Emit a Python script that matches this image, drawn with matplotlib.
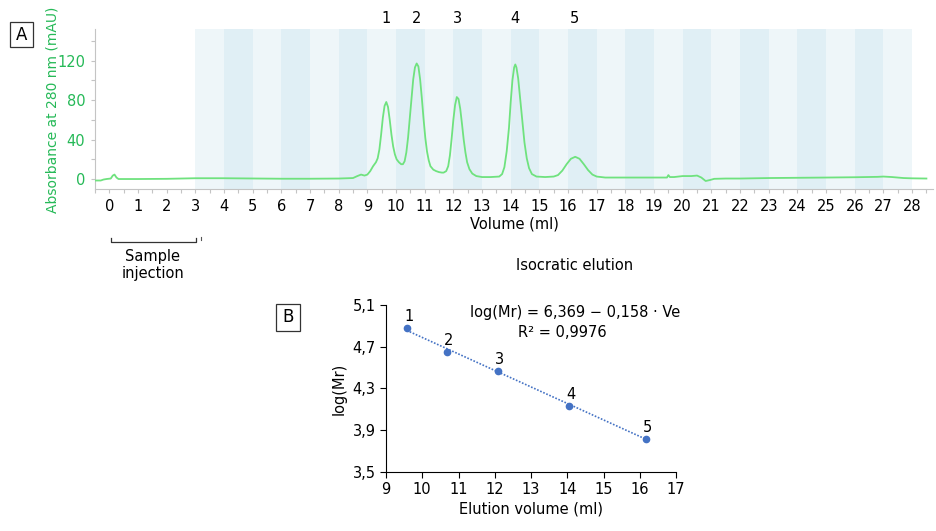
import matplotlib
matplotlib.use("Agg")
import matplotlib.pyplot as plt
from matplotlib.patches import Rectangle

# chromatogram trace, volume (ml) vs absorbance (mAU)
volume = [-0.5, -0.3, -0.2, -0.1, 0.05, 0.12, 0.18, 0.25, 0.32, 1.0, 2.0, 3.0, 4.0,
          5.0, 6.0, 7.0, 8.0, 8.5, 8.65, 8.78, 8.9, 9.0, 9.1, 9.2, 9.3, 9.36, 9.42,
          9.48, 9.54, 9.6, 9.66, 9.72, 9.78, 9.84, 9.9, 9.96, 10.02, 10.1, 10.18,
          10.24, 10.3, 10.36, 10.42, 10.48, 10.54, 10.6, 10.66, 10.72, 10.78, 10.84,
          10.9, 10.96, 11.02, 11.08, 11.14, 11.2, 11.3, 11.4, 11.5, 11.6, 11.66,
          11.75, 11.82, 11.88, 11.94, 12.0, 12.06, 12.12, 12.18, 12.24, 12.3, 12.36,
          12.42, 12.48, 12.56, 12.66, 12.8, 13.0, 13.3, 13.6, 13.7, 13.78, 13.86,
          13.94, 14.0, 14.06, 14.12, 14.16, 14.2, 14.26, 14.32, 14.4, 14.48, 14.56,
          14.64, 14.74, 14.9, 15.2, 15.5, 15.65, 15.8, 15.95, 16.1, 16.25, 16.4,
          16.55, 16.7, 16.85, 17.0, 17.3, 18.0, 19.0, 19.45, 19.5, 19.55, 19.7, 20.0,
          20.3, 20.5, 20.65, 20.8, 20.95, 21.1, 21.5, 22.0, 23.0, 24.0, 25.0, 26.0,
          26.8, 27.0, 27.3, 27.7, 28.0, 28.5]
absorb = [-1.5, -1.5, -0.5, 0.0, 0.5, 3.5, 4.5, 1.5, 0.0, 0.0, 0.2, 0.8, 0.8,
          0.5, 0.3, 0.3, 0.5, 1.0, 3.0, 4.5, 3.5, 4.5, 8, 13, 17, 21, 30,
          45, 62, 74, 78, 73, 60, 45, 33, 25, 20, 17, 15,
          15, 18, 27, 42, 62, 83, 101, 113, 117, 114, 101,
          82, 61, 42, 28, 19, 13, 9.5, 8, 7, 6.5, 6.5,
          8, 13, 24, 41, 60, 75, 83, 81, 71, 56, 40,
          27, 17, 10, 5.5, 3, 2, 2, 2.5, 5, 12, 28,
          52, 78, 100, 113, 116, 113, 102, 84, 60, 37, 21,
          11, 5, 2.5, 2, 2.5, 4, 8.5, 15, 20.5, 22.5, 20.5,
          15, 9, 4.5, 2.5, 1.5, 1.5, 1.5, 1.5, 4, 2, 2, 3,
          3, 3.5, 1.5, -2, -1, 0.2, 0.5, 0.5, 1.0, 1.2, 1.5, 1.8,
          2.2, 2.5, 2.0, 1.0, 0.7, 0.5]

peak_ids = ["1", "2", "3", "4", "5"]
peak_volumes = [9.66, 10.72, 12.15, 14.15, 16.22]

# calibration points
elution_vol = [9.57, 10.67, 12.08, 14.06, 16.16]
log_mr = [4.876, 4.649, 4.464, 4.137, 3.814]
intercept = 6.369
slope = -0.158
r2 = "0,9976"

green_txt = "#25b957"
green_line = "#6fe27e"
blue = "#4472c4"
grey = "#c4c4c4"

fig = plt.figure(figsize=(9.36, 5.31), dpi=100)
W, H = 936, 531

def box(x0, y0, x1, y1):
    return [x0 / W, 1 - y1 / H, (x1 - x0) / W, (y1 - y0) / H]

# ---- panel A ----
ax = fig.add_axes(box(95, 29, 933, 189))
for v in range(3, 28):
    c = "#e0eff5" if v % 2 == 0 else "#eef6f9"
    ax.axvspan(v, v + 1, color=c, lw=0, zorder=0)
ax.plot(volume, absorb, color=green_line, lw=1.3, zorder=3)
ax.set_xlim(-0.49, 28.73)
ax.set_ylim(-10.1, 151.9)
ax.set_xticks(range(0, 29))
ax.set_xticks([i + 0.5 for i in range(-1, 29)], minor=True)
ax.set_yticks([0, 40, 80, 120])
ax.set_yticks([20, 60, 100, 140], minor=True)
for s in ["top", "right"]:
    ax.spines[s].set_visible(False)
for s in ["left", "bottom"]:
    ax.spines[s].set_color(grey)
    ax.spines[s].set_linewidth(0.8)
ax.tick_params(axis="both", which="both", color=grey, length=3, width=0.8)
ax.tick_params(axis="x", labelsize=10.5, pad=4)
ax.tick_params(axis="y", labelsize=10.5, labelcolor=green_txt, pad=4)
ax.set_xlabel("Volume (ml)", fontsize=10.5, labelpad=2)
ax.set_ylabel("Absorbance at 280 nm (mAU)", fontsize=10, color=green_txt)
ax.yaxis.set_label_coords(-0.042, 0.494)
for lab, v in zip(peak_ids, peak_volumes):
    ax.text(v, 163, lab, ha="center", va="center", fontsize=10.5, clip_on=False)

# ---- panel B ----
bx = fig.add_axes(box(386, 305, 676, 472))
vv = [elution_vol[0], elution_vol[-1]]
bx.plot(vv, [intercept + slope * v for v in vv], color=blue, lw=1.2, ls=(0, (1, 1)))
bx.plot(elution_vol, log_mr, "o", color=blue, ms=4.5)
for lab, x, y in zip(peak_ids, elution_vol, log_mr):
    bx.annotate(lab, (x, y), xytext=(2, 4), textcoords="offset pixels",
                ha="center", va="bottom", fontsize=10.5)
bx.set_xlim(9, 17)
bx.set_ylim(3.5, 5.1)
bx.set_xticks(range(9, 18))
yt = [3.5, 3.9, 4.3, 4.7, 5.1]
bx.set_yticks(yt)
bx.set_yticklabels([f"{t:.1f}".replace(".", ",") for t in yt])
for s in ["top", "right"]:
    bx.spines[s].set_visible(False)
bx.tick_params(labelsize=10.5, length=4, width=0.8)
bx.set_xlabel("Elution volume (ml)", fontsize=10.5, labelpad=3)
bx.set_ylabel("log(Mr)", fontsize=10.5, labelpad=4)
bx.text(0.652, 0.955, "log(Mr) = 6,369 \u2212 0,158 \u00b7 Ve", transform=bx.transAxes,
        ha="center", va="center", fontsize=10.5)
bx.text(0.607, 0.835, "R\u00b2 = " + r2, transform=bx.transAxes,
        ha="center", va="center", fontsize=10.5)

# ---- labels and brackets in figure pixels ----
ov = fig.add_axes([0, 0, 1, 1], zorder=-1)
ov.set_xlim(0, W)
ov.set_ylim(H, 0)
ov.axis("off")
ov.add_patch(Rectangle((10, 22), 23, 25, fill=False, ec="#333333", lw=0.9))
ov.text(21.5, 34.5, "A", ha="center", va="center", fontsize=12)
ov.add_patch(Rectangle((276, 304), 24, 27, fill=False, ec="#333333", lw=0.9))
ov.text(288, 317.5, "B", ha="center", va="center", fontsize=12)
ov.plot([111, 111, 196, 196], [238, 242, 242, 238], color="#333333", lw=0.9)
ov.plot([201, 201], [237, 240], color="#555555", lw=0.8)
ov.text(153, 265, "Sample\ninjection", ha="center", va="center", fontsize=10.5,
        linespacing=1.2)
ov.text(575, 265, "Isocratic elution", ha="center", va="center", fontsize=10.5)

fig.savefig("out.png", dpi=100)
